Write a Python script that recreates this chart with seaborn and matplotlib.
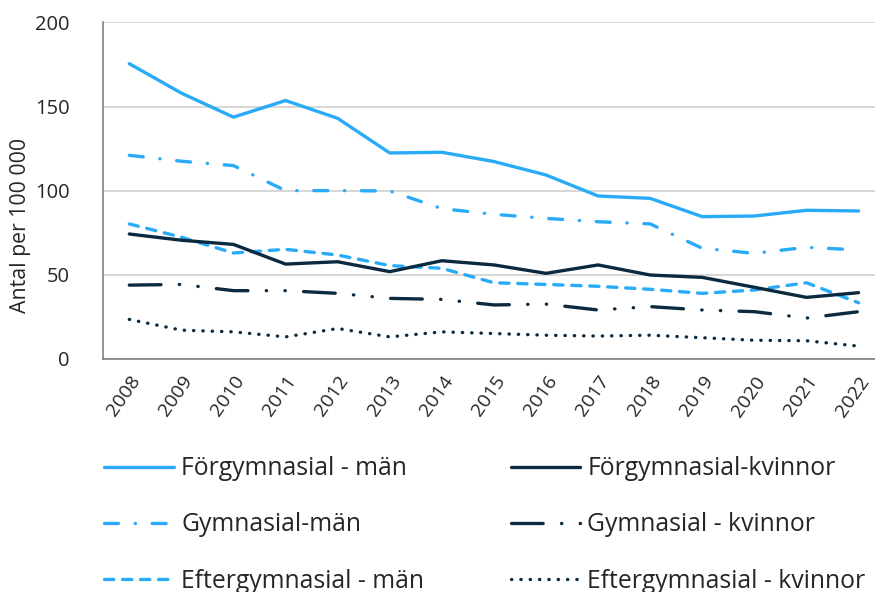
import numpy as np
import pandas as pd
import seaborn as sns
import matplotlib.pyplot as plt
from matplotlib.ticker import FixedLocator

# --- Data (antal per 100 000) ---
years = ['2008', '2009', '2010', '2011', '2012', '2013', '2014', '2015',
         '2016', '2017', '2018', '2019', '2020', '2021', '2022']

forgym_man = [175.5, 158, 143.7, 153.6, 143, 122.4, 122.8, 117.3, 109.3, 96.8, 95.4, 84.5, 84.9, 88.3, 87.9]
gym_man = [121, 117.5, 114.9, 100, 100, 99.8, 89.3, 85.9, 83.5, 81.5, 80.2, 65.7, 62.7, 66.3, 64.7]
eftergym_man = [80.2, 72.3, 62.9, 65.1, 61.7, 55.4, 53.8, 45.2, 44.2, 43.1, 41.3, 38.9, 40.9, 45.2, 33.3]
forgym_kv = [74.2, 70.5, 68, 56.3, 57.7, 51.8, 58.3, 55.8, 50.8, 55.8, 49.8, 48.4, 42.5, 36.5, 39.3]
gym_kv = [43.8, 44.2, 40.5, 40.5, 38.9, 35.9, 35.3, 32.0, 32.5, 29.0, 31.0, 29.0, 28.0, 24.2, 28.0]
eftergym_kv = [23.4, 17, 16, 13, 18, 13, 16, 15, 14, 13.5, 14, 12.5, 11, 10.7, 7.5]

labels = ['Förgymnasial - män', 'Gymnasial-män', 'Eftergymnasial - män',
          'Förgymnasial-kvinnor', 'Gymnasial - kvinnor', 'Eftergymnasial - kvinnor']
series = [forgym_man, gym_man, eftergym_man, forgym_kv, gym_kv, eftergym_kv]

light = '#2AABF7'
dark = '#0B2A40'
colors = [light, light, light, dark, dark, dark]
dashes = [(None, None), (4.2, 5, 0.1, 5), (2.8, 2.6), (None, None),
          (9.5, 5.5, 0.1, 5.5, 0.1, 5.5), (0.1, 2.7)]

sns.set_theme(style='white')
plt.rcParams['font.family'] = ['Open Sans', 'DejaVu Sans']
text_col = '#262626'

fig = plt.figure(figsize=(8.75, 5.92), dpi=100)
ax = fig.add_axes([0.118, 0.394, 0.893, 0.568])

x = np.arange(len(years))
for vals, lab, col, ds in zip(series, labels, colors, dashes):
    df = pd.DataFrame({'x': x, 'y': vals})
    sns.lineplot(data=df, x='x', y='y', ax=ax, color=col, linewidth=2.4,
                 label=lab, legend=False)
    line = ax.lines[-1]
    line.set_solid_capstyle('round')
    line.set_dash_capstyle('round')
    if ds[0] is not None:
        line.set_dashes(ds)

ax.set_xlim(-0.5, len(years) - 0.5)
ax.set_ylim(0, 200)
ax.set_yticks([0, 50, 100, 150, 200])
ax.yaxis.grid(True, color='#d0d0d0', linewidth=1.2)
ax.tick_params(axis='y', length=0, labelsize=14.5, labelcolor=text_col, pad=24)

# tick marks between categories, labels at centres
ax.xaxis.set_major_locator(FixedLocator(np.arange(-0.5, len(years), 1)))
ax.set_xticklabels([''] * len(ax.get_xticks()))
ax.set_xticks(x, minor=True)
ax.set_xticklabels(years, minor=True, rotation=55, ha='right',
                   rotation_mode='anchor', fontsize=14, color=text_col)
ax.tick_params(axis='x', which='major', length=7, color='#808080', width=1)
ax.tick_params(axis='x', which='minor', length=0, pad=10)

for s in ['top', 'right']:
    ax.spines[s].set_visible(False)
for s in ['left', 'bottom']:
    ax.spines[s].set_color('#808080')
    ax.spines[s].set_linewidth(1.2)

ax.set_xlabel('')
ax.set_ylabel('Antal per 100 000', fontsize=15.3, color=text_col)
ax.yaxis.set_label_coords(-0.092, 0.395)

handles = ax.lines
leg = fig.legend(handles, labels, ncol=2, loc='upper left',
                 bbox_to_anchor=(0.108, 0.246), frameon=False,
                 fontsize=17.8, handlelength=2.8, handletextpad=0.3,
                 columnspacing=3.5, labelspacing=1.26, labelcolor=text_col,
                 borderaxespad=0)

fig.savefig('out.png', dpi=100)
